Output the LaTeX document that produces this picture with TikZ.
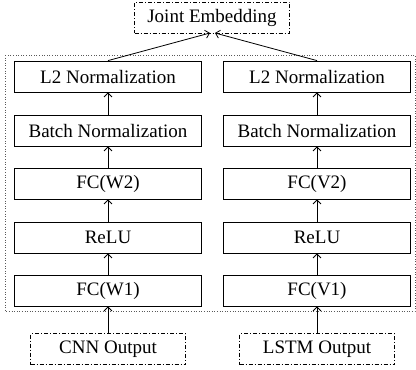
\documentclass[tikz,border=0pt]{standalone}
\usepackage{fontspec}
\setmainfont{Liberation Serif}
\usetikzlibrary{arrows.meta}
\begin{document}
\begin{tikzpicture}[x=1pt,y=-1pt,
  blk/.style={draw,line width=0.8pt,minimum width=187pt,minimum height=31pt,inner sep=0pt,font=\fontsize{19}{22}\selectfont},
  io/.style={draw,line width=0.8pt,dash pattern=on 4pt off 2pt on 1pt off 2pt,minimum width=155pt,minimum height=31pt,inner sep=0pt,font=\fontsize{19}{22}\selectfont},
  arr/.style={line width=0.8pt,-{Straight Barb[length=4pt,width=8pt]}}]
\useasboundingbox (0,0) rectangle (416,370);
\draw[line width=0.6pt,dotted,gray!70!black] (5,55) rectangle (415,311);
\node[io] (je) at (212,17.5) {Joint Embedding};
\node[blk] (l2a) at (108,76.5) {L2 Normalization};
\node[blk] (bna) at (108,130.5) {Batch Normalization};
\node[blk] (fc2a) at (108,183.5) {FC(W2)};
\node[blk] (rla) at (108,237.5) {ReLU};
\node[blk] (fc1a) at (108,290.5) {FC(W1)};
\node[io] (cnn) at (108,349) {CNN Output};
\node[blk] (l2b) at (317,76.5) {L2 Normalization};
\node[blk] (bnb) at (317,130.5) {Batch Normalization};
\node[blk] (fc2b) at (317,183.5) {FC(V2)};
\node[blk] (rlb) at (317,237.5) {ReLU};
\node[blk] (fc1b) at (317,290.5) {FC(V1)};
\node[io] (lstm) at (317,349) {LSTM Output};
\coordinate (jl) at (210,33);
\coordinate (jr) at (215,33);
\draw[arr] (l2a.north) -- (jl);
\draw[arr] (l2b.north) -- (jr);
\draw[arr] (bna) -- (l2a);
\draw[arr] (fc2a) -- (bna);
\draw[arr] (rla) -- (fc2a);
\draw[arr] (fc1a) -- (rla);
\draw[arr] (cnn) -- (fc1a);
\draw[arr] (bnb) -- (l2b);
\draw[arr] (fc2b) -- (bnb);
\draw[arr] (rlb) -- (fc2b);
\draw[arr] (fc1b) -- (rlb);
\draw[arr] (lstm) -- (fc1b);
\end{tikzpicture}
\end{document}
